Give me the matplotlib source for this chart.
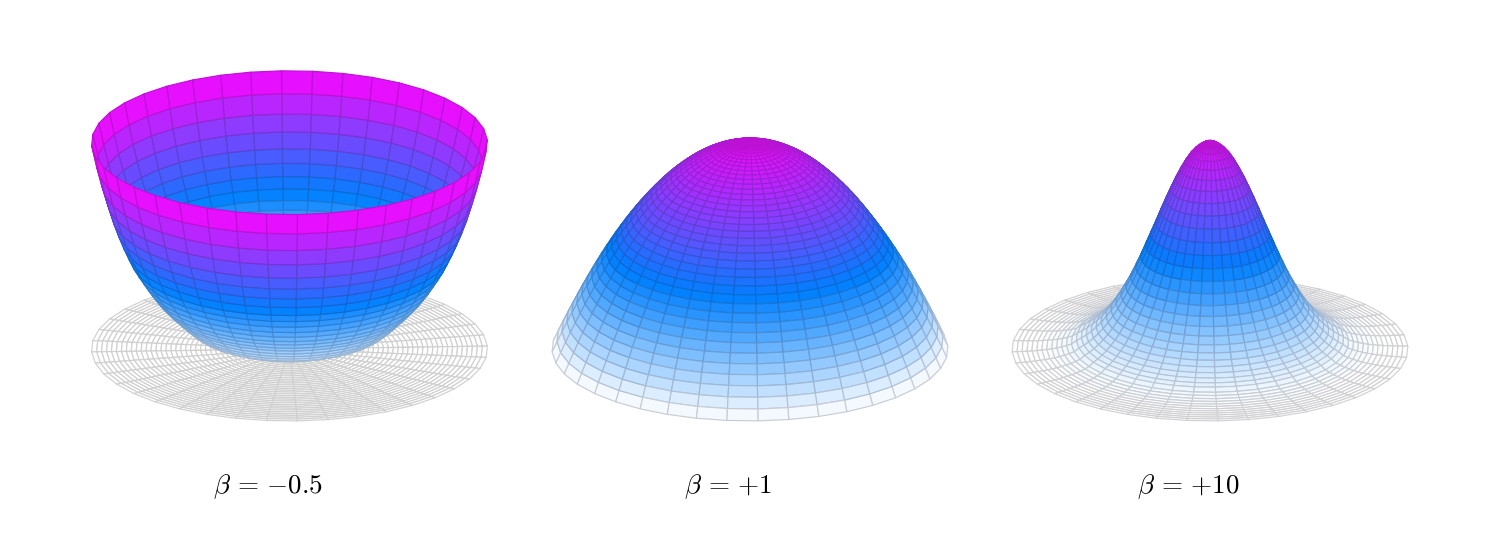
import numpy as np
import matplotlib
matplotlib.use("Agg")
import matplotlib.pyplot as plt
from matplotlib.colors import LinearSegmentedColormap

plt.rcParams['mathtext.fontset'] = 'cm'

# surface height on each ring, outer rim (r=1) first, centre (r=0) last
bowl_height = [206.3, 185.2, 166.7, 150.6, 135.5, 122.8, 111.2, 100.7, 90.9, 83.1, 75.7,
               68.5, 62.1, 55.9, 50.8, 45.7, 41.2, 36.4, 31.9, 27.8, 24.0,
               22.0, 20.0, 18.0, 16.3, 14.3, 12.5, 10.8, 9.2, 7.7, 6.3,
               5.0, 3.9, 2.9, 2.0, 1.4, 0.9, 0.5, 0.2, 0.1, 0.0]
dome_height = [0.0, 10.1, 20.0, 29.6, 38.9, 48.0, 56.8, 65.4, 73.7, 81.8, 89.6,
               97.1, 104.4, 111.4, 118.2, 124.7, 131.0, 137.0, 142.8, 148.3, 153.5,
               158.5, 163.2, 167.7, 171.9, 175.9, 179.6, 183.1, 186.3, 189.2, 191.9,
               194.3, 196.5, 198.4, 200.1, 201.5, 202.7, 203.6, 204.2, 204.6, 204.7]
peak_height = [0.0, 0.1, 0.2, 0.4, 0.6, 0.9, 1.3, 1.8, 2.4, 3.2, 4.2,
               5.5, 7.0, 10.3, 12.8, 15.8, 19.3, 23.5, 28.2, 33.7, 39.9,
               46.9, 54.7, 63.0, 72.0, 82.0, 92.5, 103.6, 114.9, 126.0, 137.8,
               149.0, 159.7, 170.0, 179.2, 187.6, 194.7, 200.0, 204.0, 206.8, 208.0]
labels = [r'$\beta\,=\,{-}0.5$', r'$\beta\,=\,{+}1$', r'$\beta\,=\,{+}10$']

# picture layout, in pixels
fig_w, fig_h = 1500, 535
centres = [289.5, 750, 1210]
label_x = [268, 728, 1188]
base_y = 349
radius_px = 198
z_top = 212
elev = 21.3
ax_px = 480

cmap = LinearSegmentedColormap.from_list('height', ['#ffffff', '#0080ff', '#e60fff'])
# grid lines are the face colour mixed with a dark grey
edge_mix = 0.2
edge_dark = np.array([0.1, 0.1, 0.15])

r = np.linspace(1, 0, len(dome_height))
theta = np.radians(np.arange(41) * 9.0)
R, T = np.meshgrid(r, theta, indexing='ij')
X = R * np.cos(T)
Y = R * np.sin(T)

# mplot3d scaling: one box unit is ax_px / 1.85 pixels, view centre at 0.95 / 1.85 of the axes
z_ratio = z_top / (2 * radius_px * np.cos(np.radians(elev)))
box_len = 2 * radius_px * 1.85 / ax_px
zoom = box_len * np.sqrt(2 + z_ratio ** 2) / (1.8294640721620434 * 25 / 24)
offset = 0.95 / 1.85 * ax_px

fig = plt.figure(figsize=(fig_w / 100, fig_h / 100), dpi=100)

for i, heights in enumerate([bowl_height, dome_height, peak_height]):
    pos = [(centres[i] - offset) / fig_w,
           (fig_h - (base_y - z_top / 2) - offset) / fig_h,
           ax_px / fig_w, ax_px / fig_h]
    ax = fig.add_axes(pos, projection='3d', proj_type='ortho', computed_zorder=False)
    ax.view_init(elev=elev, azim=-92.3)
    ax.set_box_aspect((1, 1, z_ratio), zoom=zoom)
    ax.set_xlim(-1, 1)
    ax.set_ylim(-1, 1)
    ax.set_zlim(0, z_top)
    ax.set_axis_off()
    ax.patch.set_alpha(0)

    Z = np.tile(np.array(heights)[:, None], (1, len(theta)))
    face_z = (Z[:-1, :-1] + Z[1:, :-1]) / 2
    colors = cmap(face_z / face_z.max())

    edges = colors.reshape(-1, 4).copy()
    edges[:, :3] = edges[:, :3] * (1 - edge_mix) + edge_dark * edge_mix

    if i == 0:
        disc = ax.plot_surface(X, Y, np.zeros_like(Z), rstride=1, cstride=1, color='white',
                               shade=False, linewidth=0.85, zorder=1)
        disc.set_edgecolor('#d0d0d0')

    surf = ax.plot_surface(X, Y, Z, rstride=1, cstride=1, facecolors=colors,
                           shade=False, linewidth=0.85, zorder=2)
    surf.set_edgecolor(edges)

    fig.text(label_x[i] / fig_w, 1 - 487 / fig_h, labels[i], fontsize=19.5,
             ha='center', va='center')

plt.savefig('out.png', dpi=100)
